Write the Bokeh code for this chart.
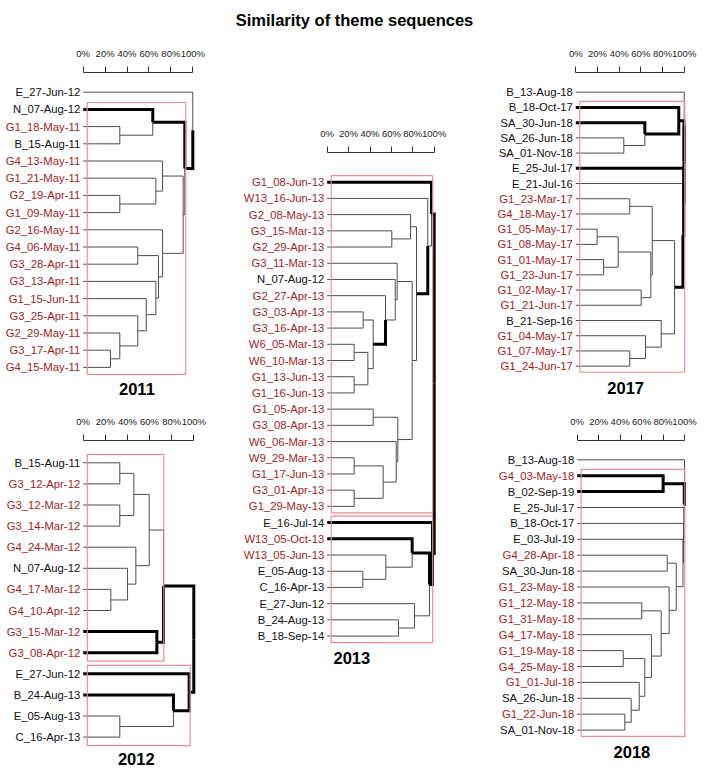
from bokeh.plotting import figure
from bokeh.layouts import column, row
from bokeh.models import Range1d, FixedTicker, NumeralTickFormatter, ColumnDataSource
from bokeh.core.properties import value
from bokeh.embed import file_html
from bokeh.resources import INLINE

FONT = "Liberation Sans"
RED = "#a51d1d"
PINK = "#ef8c96"
THIN = "#4d4d4d"

TITLE = "Similarity of theme sequences"
TICKS = [0.0, 0.2, 0.4, 0.6, 0.8, 1.0]

# ---------------- 2011 ----------------
labels_2011 = ["E_27-Jun-12", "N_07-Aug-12", "G1_18-May-11", "B_15-Aug-11", "G4_13-May-11",
               "G1_21-May-11", "G2_19-Apr-11", "G1_09-May-11", "G2_16-May-11", "G4_06-May-11",
               "G3_28-Apr-11", "G3_13-Apr-11", "G1_15-Jun-11", "G3_25-Apr-11", "G2_29-May-11",
               "G3_17-Apr-11", "G4_15-May-11"]
merges_2011 = [(2, 3, 33.4), (1, 17, 63.5), (6, 7, 33.4), (5, 19, 66.3), (4, 20, 72.4),
               (9, 10, 49.8), (15, 16, 24.9), (14, 23, 33.4), (13, 24, 49.8), (12, 25, 57.5),
               (11, 26, 66.3), (22, 27, 68.7), (8, 28, 72.4), (21, 29, 91.2), (18, 30, 92.7),
               (0, 31, 100.0)]
thick_2011 = [31, 18, 1]
box_first_2011 = [1]
box_last_2011 = [16]
box_height_2011 = [93.6]

# ---------------- 2012 ----------------
labels_2012 = ["B_15-Aug-11", "G3_12-Apr-12", "G3_12-Mar-12", "G3_14-Mar-12", "G4_24-Mar-12",
               "N_07-Aug-12", "G4_17-Mar-12", "G4_10-Apr-12", "G3_15-Mar-12", "G3_08-Apr-12",
               "E_27-Jun-12", "B_24-Aug-13", "E_05-Aug-13", "C_16-Apr-13"]
merges_2012 = [(0, 1, 33.1), (2, 3, 33.1), (14, 15, 45.8), (6, 7, 25.0), (5, 17, 40.1),
               (4, 18, 47.6), (16, 19, 59.7), (8, 9, 66.6), (20, 21, 72.6), (12, 13, 33.1),
               (11, 23, 81.6), (10, 24, 95.8), (22, 25, 100.0)]
thick_2012 = [22, 21, 8, 9, 25, 10, 24, 11]
box_first_2012 = [0, 10]
box_last_2012 = [9, 13]
box_height_2012 = [72.9, 96.7]

# ---------------- 2013 ----------------
labels_2013 = ["G1_08-Jun-13", "W13_16-Jun-13", "G2_08-May-13", "G3_15-Mar-13", "G2_29-Apr-13",
               "G3_11-Mar-13", "N_07-Aug-12", "G2_27-Apr-13", "G3_03-Apr-13", "G3_16-Apr-13",
               "W6_05-Mar-13", "W6_10-Mar-13", "G1_13-Jun-13", "G1_16-Jun-13", "G1_05-Apr-13",
               "G3_08-Apr-13", "W6_06-Mar-13", "W9_29-Mar-13", "G1_17-Jun-13", "G3_01-Apr-13",
               "G1_29-May-13", "E_16-Jul-14", "W13_05-Oct-13", "W13_05-Jun-13", "E_05-Aug-13",
               "C_16-Apr-13", "E_27-Jun-12", "B_24-Aug-13", "B_18-Sep-14"]
merges_2013 = [(3, 4, 60.4), (2, 29, 77.9), (8, 9, 33.6), (10, 11, 25.2), (12, 13, 25.2),
               (32, 33, 38.0), (31, 34, 43.0), (7, 35, 54.5), (6, 36, 63.6), (5, 37, 65.4),
               (14, 15, 43.0), (17, 18, 25.2), (19, 20, 25.2), (40, 41, 52.3), (16, 42, 64.5),
               (39, 43, 66.0), (38, 44, 79.4), (30, 45, 83.5), (1, 46, 94.0), (0, 47, 97.5),
               (24, 25, 33.3), (23, 49, 54.8), (22, 50, 79.4), (27, 28, 66.6), (26, 52, 81.6),
               (51, 53, 95.6), (21, 54, 98.4), (48, 55, 100.0)]
thick_2013 = [35, 46, 0, 48, 55, 21, 54, 51, 22]
box_first_2013 = [0, 21]
box_last_2013 = [20, 28]
box_height_2013 = [98.6, 98.6]

# ---------------- 2017 ----------------
labels_2017 = ["B_13-Aug-18", "B_18-Oct-17", "SA_30-Jun-18", "SA_26-Jun-18", "SA_01-Nov-18",
               "E_25-Jul-17", "E_21-Jul-16", "G1_23-Mar-17", "G4_18-May-17", "G1_05-May-17",
               "G1_08-May-17", "G1_01-May-17", "G1_23-Jun-17", "G1_02-May-17", "G1_21-Jun-17",
               "B_21-Sep-16", "G1_04-May-17", "G1_07-May-17", "G1_24-Jun-17"]
merges_2017 = [(3, 4, 44.3), (2, 19, 63.7), (1, 20, 95.0), (7, 8, 49.8), (9, 10, 19.7),
               (11, 12, 25.6), (23, 24, 39.1), (13, 14, 60.3), (25, 26, 69.2), (22, 27, 70.5),
               (17, 18, 49.8), (16, 29, 64.3), (15, 30, 78.8), (28, 31, 91.1), (6, 32, 98.8),
               (5, 33, 99.6), (21, 34, 99.8), (0, 35, 100.0)]
thick_2017 = [2, 20, 1, 21, 35, 34, 5, 33, 32]
box_first_2017 = [1]
box_last_2017 = [18]
box_height_2017 = [100.5]

# ---------------- 2018 ----------------
labels_2018 = ["B_13-Aug-18", "G4_03-May-18", "B_02-Sep-19", "E_25-Jul-17", "B_18-Oct-17",
               "E_03-Jul-19", "G4_28-Apr-18", "SA_30-Jun-18", "G1_23-May-18", "G1_12-May-18",
               "G1_31-May-18", "G4_17-May-18", "G1_19-May-18", "G4_25-May-18", "G1_01-Jul-18",
               "SA_26-Jun-18", "G1_22-Jun-18", "SA_01-Nov-18"]
merges_2018 = [(1, 2, 80.1), (6, 7, 83.9), (9, 10, 60.2), (12, 13, 42.9), (16, 17, 44.4),
               (15, 22, 50.3), (14, 23, 57.8), (21, 24, 63.0), (11, 25, 69.2), (20, 26, 78.3),
               (8, 27, 85.7), (19, 28, 92.3), (5, 29, 98.6), (4, 30, 99.0), (3, 31, 99.4),
               (18, 32, 99.8), (0, 33, 100.0)]
thick_2018 = [1, 2, 18, 33]
box_first_2018 = [1]
box_last_2018 = [17]
box_height_2018 = [100.3]


def build_tree(n, merges):
    pos = {i: (0.0, float(i)) for i in range(n)}
    edges = []
    for k, (a, b, h) in enumerate(merges):
        nid = n + k
        pos[nid] = (h / 100.0, (pos[a][1] + pos[b][1]) / 2.0)
        edges.append((nid, a))
        edges.append((nid, b))
    return pos, edges


def panel(year, labels, merges, thick, bfirst, blast, bheight,
          win_l, win_r, top, bottom, border_top, zero_px, full_px, first_y, step, year_x):
    sx = full_px - zero_px
    frame_top = top + border_top
    p = figure(width=win_r - win_l, height=bottom - top,
               output_backend="svg", toolbar_location=None,
               x_axis_location="above", y_axis_location=None,
               x_range=Range1d((win_l - zero_px) / sx, (win_r - zero_px) / sx),
               y_range=Range1d((bottom - first_y) / step, (frame_top - first_y) / step),
               min_border_left=0, min_border_right=0, min_border_bottom=0,
               min_border_top=border_top)
    p.outline_line_color = None
    p.grid.visible = False
    p.background_fill_color = "white"
    p.border_fill_color = "white"

    ax = p.xaxis[0]
    ax.bounds = (0, 1)
    ax.ticker = FixedTicker(ticks=TICKS)
    ax.formatter = NumeralTickFormatter(format="0%")
    ax.major_tick_in = 0
    ax.major_tick_out = 6
    ax.minor_tick_line_color = None
    ax.axis_line_color = "#333333"
    ax.major_tick_line_color = "#333333"
    ax.major_label_text_font = FONT
    ax.major_label_text_font_size = "9.5px"
    ax.major_label_text_color = "#222222"
    ax.major_label_standoff = 8

    n = len(labels)
    pos, edges = build_tree(n, merges)
    thin_xs, thin_ys, thick_xs, thick_ys = [], [], [], []
    for parent, child in edges:
        hp, yp = pos[parent]
        hc, yc = pos[child]
        xs = [hp, hp, hc]
        ys = [yp, yc, yc]
        if child in thick:
            thick_xs.append(xs)
            thick_ys.append(ys)
        else:
            thin_xs.append(xs)
            thin_ys.append(ys)
    p.multi_line(thin_xs, thin_ys, line_color=THIN, line_width=1)
    p.multi_line(thick_xs, thick_ys, line_color="black", line_width=3, line_join="miter")

    p.quad(left=[0.037] * len(bfirst), right=[h / 100.0 for h in bheight],
           top=[f - 0.4 for f in bfirst], bottom=[l + 0.4 for l in blast],
           fill_color=None, line_color=PINK, line_width=1.2)

    colors = [RED if lab[0] in "GW" else "#111111" for lab in labels]
    src = ColumnDataSource(dict(x=[0.0] * n, y=list(range(n)), t=labels, c=colors))
    p.text(x="x", y="y", text="t", text_color="c", source=src,
           text_align="right", text_baseline="middle", x_offset=-3,
           text_font=value(FONT), text_font_size=value("11.3px"))

    p.text(x=[year_x], y=[n - 1], text=[year], y_offset=22,
           text_align="center", text_baseline="middle",
           text_font=value(FONT), text_font_size=value("16.5px"),
           text_font_style="bold", text_color="black")
    return p


# title figure
tp = figure(width=708, height=33, output_backend="svg", toolbar_location=None,
            x_axis_location=None, y_axis_location=None,
            x_range=Range1d(0, 1), y_range=Range1d(0, 1), min_border=0)
tp.outline_line_color = None
tp.grid.visible = False
tp.text(x=[0.5], y=[0.4], text=[TITLE], text_align="center", text_baseline="middle",
        text_font=value(FONT), text_font_size=value("16.5px"), text_font_style="bold",
        text_color="black")

p11 = panel("2011", labels_2011, merges_2011, thick_2011, box_first_2011, box_last_2011, box_height_2011,
            0, 226, 33, 398, 39, 82.7, 192.3, 91.7, 17.2, 0.49)
p12 = panel("2012", labels_2012, merges_2012, thick_2012, box_first_2012, box_last_2012, box_height_2012,
            0, 226, 398, 768, 42, 82.7, 193.3, 462.3, 21.1, 0.48)
p13 = panel("2013", labels_2013, merges_2013, thick_2013, box_first_2013, box_last_2013, box_height_2013,
            226, 468, 33, 768, 119, 326.7, 433.7, 181.7, 16.21, 0.23)
p17 = panel("2017", labels_2017, merges_2017, thick_2017, box_first_2017, box_last_2017, box_height_2017,
            468, 708, 33, 398, 39, 575.3, 683.7, 91.7, 15.22, 0.46)
p18 = panel("2018", labels_2018, merges_2018, thick_2018, box_first_2018, box_last_2018, box_height_2018,
            468, 708, 398, 768, 42, 576.7, 684.0, 459.3, 15.9, 0.51)

layout = column(tp, row(column(p11, p12), p13, column(p17, p18)))

open("out.html", "w").write(file_html(layout, INLINE))
